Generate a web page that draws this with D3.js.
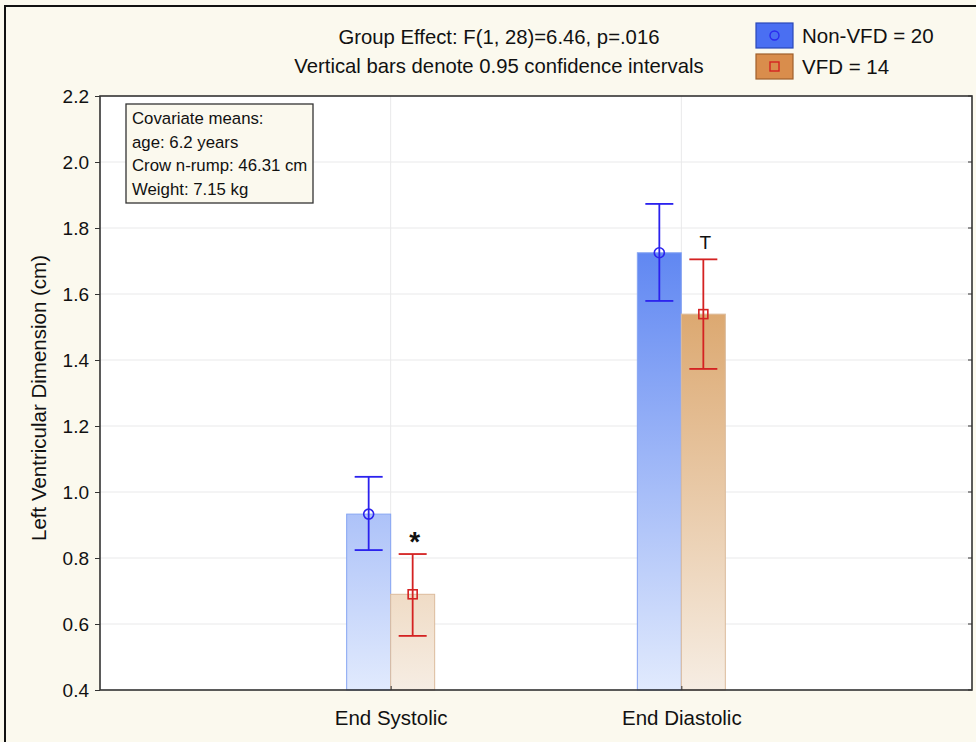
<!DOCTYPE html>
<html>
<head>
<meta charset="utf-8">
<script src="https://cdn.jsdelivr.net/npm/d3@7"></script>
<style>
  html, body { margin: 0; padding: 0; background: #fbf9ee; }
  svg { display: block; font-family: "Liberation Sans", Arial, sans-serif; }
</style>
</head>
<body>
<svg id="chart" width="976" height="742"></svg>
<script>
// ---- data ----
const categories = ["End Systolic", "End Diastolic"];
const groups = ["Non-VFD = 20", "VFD = 14"];
const nonVfdMean = [0.933, 1.725];
const nonVfdLow = [0.824, 1.579];
const nonVfdHigh = [1.046, 1.873];
const vfdMean = [0.690, 1.539];
const vfdLow = [0.564, 1.373];
const vfdHigh = [0.812, 1.705];
const markers = ["*", "T"];
const yTicks = [0.4, 0.6, 0.8, 1.0, 1.2, 1.4, 1.6, 1.8, 2.0, 2.2];
const titleLines = ["Group Effect: F(1, 28)=6.46, p=.016", "Vertical bars denote 0.95 confidence intervals"];
const covariateLines = ["Covariate means:", "age: 6.2 years", "Crow n-rump: 46.31 cm", "Weight: 7.15 kg"];
const yLabel = "Left Ventricular Dimension (cm)";

const svg = d3.select("#chart");
const W = 976, H = 742;
const plot = { left: 100, right: 972, top: 96, bottom: 690 };

svg.append("rect").attr("width", W).attr("height", H).attr("fill", "#fbf9ee");
// outer border
svg.append("rect").attr("x", 5).attr("y", 6).attr("width", W + 10).attr("height", H + 10)
  .attr("fill", "none").attr("stroke", "#111").attr("stroke-width", 2);

const y = d3.scaleLinear().domain([0.4, 2.2]).range([plot.bottom, plot.top]);
const x = d3.scalePoint().domain(categories).range([plot.left, plot.right]).padding(1);
const xg = d3.scaleBand().domain(groups).range([-44, 44]);

const defs = svg.append("defs");
function grad(id, c0, c1) {
  const g = defs.append("linearGradient").attr("id", id)
    .attr("gradientUnits", "userSpaceOnUse")
    .attr("x1", 0).attr("x2", 0).attr("y1", y(2.2)).attr("y2", y(0.4));
  g.append("stop").attr("offset", 0).attr("stop-color", c0);
  g.append("stop").attr("offset", 1).attr("stop-color", c1);
}
grad("gBlue", "#3264ee", "#e1eafd");
grad("gOrange", "#cd812f", "#f6ede3");

// plot background
svg.append("rect").attr("x", plot.left).attr("y", plot.top)
  .attr("width", plot.right - plot.left).attr("height", plot.bottom - plot.top).attr("fill", "#fff");

// gridlines
svg.append("g").selectAll("line").data(yTicks.slice(1, -1)).join("line")
  .attr("x1", plot.left).attr("x2", plot.right)
  .attr("y1", d => y(d)).attr("y2", d => y(d))
  .attr("stroke", "#e9e9ea").attr("stroke-width", 1);
svg.append("g").selectAll("line").data(categories).join("line")
  .attr("x1", d => x(d)).attr("x2", d => x(d))
  .attr("y1", plot.top).attr("y2", plot.bottom)
  .attr("stroke", "#e9e9ea").attr("stroke-width", 1);

// series
const series = [
  { name: groups[0], mean: nonVfdMean, lo: nonVfdLow, hi: nonVfdHigh, fill: "url(#gBlue)", edge: "#86a5f2", err: "#2b22ee", shape: "circle" },
  { name: groups[1], mean: vfdMean, lo: vfdLow, hi: vfdHigh, fill: "url(#gOrange)", edge: "#dcbb9c", err: "#d42222", shape: "square" }
];

series.forEach(s => {
  const g = svg.append("g");
  categories.forEach((c, i) => {
    const bx = x(c) + xg(s.name);
    const bw = xg.bandwidth();
    const cx = bx + bw / 2;
    g.append("rect").attr("x", bx).attr("y", y(s.mean[i]))
      .attr("width", bw).attr("height", y(0.4) - y(s.mean[i]))
      .attr("fill", s.fill).attr("stroke", s.edge).attr("stroke-width", 1);
    // error bar
    g.append("line").attr("x1", cx).attr("x2", cx).attr("y1", y(s.hi[i])).attr("y2", y(s.lo[i]))
      .attr("stroke", s.err).attr("stroke-width", 1.8);
    [s.hi[i], s.lo[i]].forEach(v => {
      g.append("line").attr("x1", cx - 14).attr("x2", cx + 14).attr("y1", y(v)).attr("y2", y(v))
        .attr("stroke", s.err).attr("stroke-width", 1.8);
    });
    if (s.shape === "circle") {
      g.append("circle").attr("cx", cx).attr("cy", y(s.mean[i])).attr("r", 5)
        .attr("fill", "none").attr("stroke", s.err).attr("stroke-width", 1.6);
    } else {
      g.append("rect").attr("x", cx - 4.5).attr("y", y(s.mean[i]) - 4.5).attr("width", 9).attr("height", 9)
        .attr("fill", "none").attr("stroke", s.err).attr("stroke-width", 1.6);
    }
  });
});

// significance markers above VFD
categories.forEach((c, i) => {
  const cx = x(c) + xg(groups[1]) + xg.bandwidth() / 2;
  const isStar = markers[i] === "*";
  svg.append("text").attr("x", cx + 2).attr("y", y(vfdHigh[i]) + (isStar ? -3 : -10))
    .attr("text-anchor", "middle").attr("font-size", isStar ? 28 : 19)
    .attr("font-weight", isStar ? "bold" : "normal")
    .attr("fill", "#111").text(markers[i]);
});

// frame
svg.append("rect").attr("x", plot.left).attr("y", plot.top)
  .attr("width", plot.right - plot.left).attr("height", plot.bottom - plot.top)
  .attr("fill", "none").attr("stroke", "#333").attr("stroke-width", 1.6);

// y axis
const yAxis = d3.axisLeft(y).tickValues(yTicks).tickFormat(d3.format(".1f")).tickSize(5).tickPadding(6);
const ya = svg.append("g").attr("transform", `translate(${plot.left},0)`).call(yAxis);
ya.select(".domain").remove();
ya.selectAll("line").attr("stroke", "#333");
ya.selectAll("text").attr("font-size", 19).attr("fill", "#111").attr("font-family", "Liberation Sans, Arial, sans-serif");
// right inner ticks
svg.append("g").selectAll("line").data(yTicks).join("line")
  .attr("x1", plot.right - 4).attr("x2", plot.right).attr("y1", d => y(d)).attr("y2", d => y(d))
  .attr("stroke", "#333");

// x axis
const xAxis = d3.axisBottom(x).tickSize(-4).tickPadding(20);
const xa = svg.append("g").attr("transform", `translate(0,${plot.bottom})`).call(xAxis);
xa.select(".domain").remove();
xa.selectAll("line").attr("stroke", "#333");
xa.selectAll("text").attr("font-size", 20.5).attr("fill", "#111").attr("font-family", "Liberation Sans, Arial, sans-serif");

// y label
svg.append("text").attr("transform", "translate(46,398) rotate(-90)")
  .attr("text-anchor", "middle").attr("font-size", 20.5).attr("fill", "#111").text(yLabel);

// title lines
svg.selectAll("text.title").data(titleLines).join("text").attr("class", "title")
  .attr("x", 499).attr("y", (d, i) => 44 + i * 29)
  .attr("text-anchor", "middle").attr("font-size", 20.3).attr("fill", "#111").text(d => d);

// legend
const legendColors = [
  { fill: "#4a6ff2", stroke: "#2a48b8", mark: "#2a2aee", shape: "circle" },
  { fill: "#d98d4c", stroke: "#9e5f2c", mark: "#d42222", shape: "square" }
];
groups.forEach((g, i) => {
  const ly = 23 + i * 31;
  const lc = legendColors[i];
  svg.append("rect").attr("x", 756).attr("y", ly).attr("width", 37).attr("height", 25)
    .attr("fill", lc.fill).attr("stroke", lc.stroke).attr("stroke-width", 1.2);
  if (lc.shape === "circle") {
    svg.append("circle").attr("cx", 774.5).attr("cy", ly + 12.5).attr("r", 4.5)
      .attr("fill", "none").attr("stroke", lc.mark).attr("stroke-width", 1.4);
  } else {
    svg.append("rect").attr("x", 770).attr("y", ly + 8).attr("width", 9).attr("height", 9)
      .attr("fill", "none").attr("stroke", lc.mark).attr("stroke-width", 1.4);
  }
  svg.append("text").attr("x", 802).attr("y", ly + 20).attr("font-size", 20.5).attr("fill", "#111").text(g);
});

// covariate box
svg.append("rect").attr("x", 126).attr("y", 104).attr("width", 187).attr("height", 99)
  .attr("fill", "#fbf9ee").attr("stroke", "#333").attr("stroke-width", 1.3);
svg.selectAll("text.cov").data(covariateLines).join("text").attr("class", "cov")
  .attr("x", 132).attr("y", (d, i) => 124 + i * 23.5)
  .attr("font-size", 16.8).attr("fill", "#111").text(d => d);
</script>
</body>
</html>
